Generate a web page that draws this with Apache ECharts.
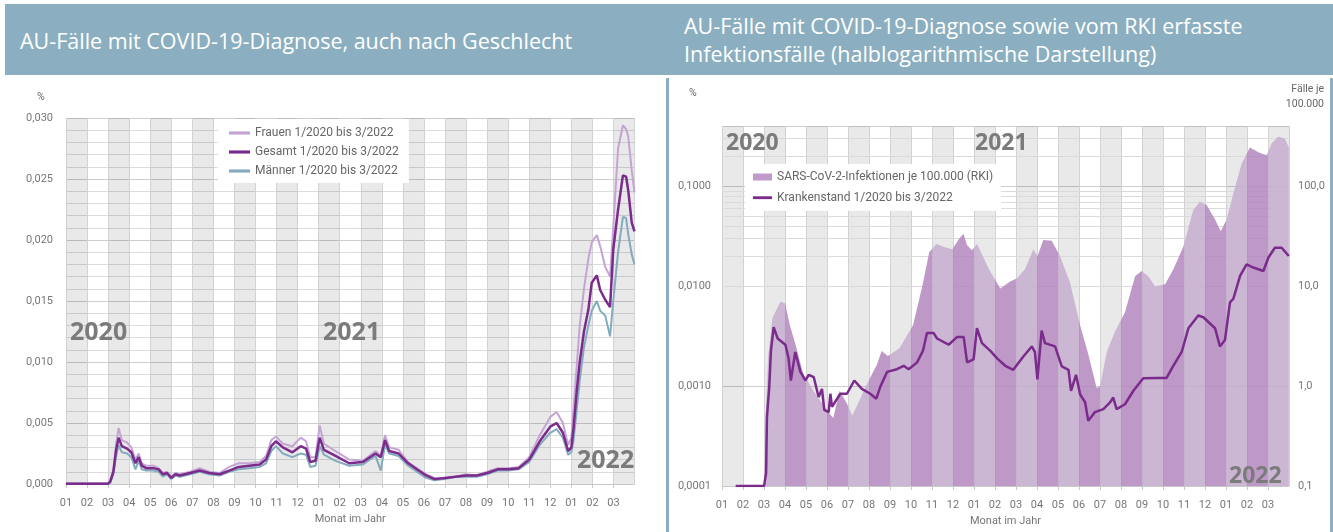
<!DOCTYPE html>
<html>
<head>
<meta charset="utf-8">
<script src="https://cdn.jsdelivr.net/npm/echarts@6/dist/echarts.min.js"></script>
<style>
  html, body { margin: 0; padding: 0; width: 1333px; height: 532px; overflow: hidden; background: #fff; }
  .head { position: absolute; top: 4px; left: 5px; width: 1328px; height: 71px; background: #8bafc0; }
  .title { position: absolute; color: #fff; font-family: 'Open Sans', sans-serif; font-size: 21.5px; white-space: nowrap; }
  .vline { position: absolute; top: 78px; bottom: 0; width: 3px; background: #8bafc0; }
  #chart { position: absolute; left: 0; top: 0; width: 1333px; height: 532px; z-index: 2; }
</style>
</head>
<body>
<div class="head"></div>
<div class="title" style="left:20px;top:26px;">AU-Fälle mit COVID-19-Diagnose, auch nach Geschlecht</div>
<div class="title" style="left:684px;top:12px;line-height:28px;">AU-Fälle mit COVID-19-Diagnose sowie vom RKI erfasste<br>Infektionsfälle (halblogarithmische Darstellung)</div>
<div class="vline" style="left:666px;"></div>
<div class="vline" style="left:1330px;"></div>
<div id="chart"></div>
<script>
// month labels on both x axes (x values are months since 1/2020)
const monthLabels = ['01', '02', '03', '04', '05', '06', '07', '08', '09', '10', '11', '12'];

// left chart: AU-Fälle in %, shared x positions
const monthPos = [0, 2.0, 2.1, 2.25, 2.38, 2.5, 2.65, 2.9, 3.1, 3.3, 3.45, 3.6, 3.8, 4.15, 4.4, 4.6, 4.8, 5.0, 5.2, 5.4,
  5.9, 6.35, 6.8, 7.3, 7.75, 8.2, 8.7, 9.2, 9.5, 9.75, 9.97, 10.3, 10.75, 11.15, 11.4, 11.6, 11.85, 12.05, 12.25, 12.8,
  13.45, 14.1, 14.7, 14.95, 15.15, 15.35, 15.8, 16.25, 16.75, 17.1, 17.5, 18.0, 18.5, 19.0, 19.5, 20.0, 20.5, 21.0, 21.5, 22.0,
  22.5, 23.0, 23.3, 23.6, 23.85, 24.0, 24.1, 24.25, 24.4, 24.6, 24.81, 24.97, 25.21, 25.37, 25.61, 25.84, 25.99, 26.22, 26.45, 26.6,
  26.7, 26.87, 27.0];
const frauen = [0.00005, 0.00005, 0.0003, 0.0012, 0.0033, 0.0046, 0.0036, 0.0034, 0.0030, 0.0020, 0.0025, 0.0017, 0.0015, 0.0015, 0.0013, 0.0009, 0.0010, 0.0006, 0.0009, 0.0008,
  0.0010, 0.0013, 0.0010, 0.0009, 0.0014, 0.0017, 0.0017, 0.0018, 0.0023, 0.0036, 0.0039, 0.0033, 0.0031, 0.0038, 0.0035, 0.0022, 0.0022, 0.0048, 0.0033, 0.0027,
  0.0020, 0.0019, 0.0027, 0.0023, 0.0040, 0.0030, 0.0028, 0.0018, 0.0012, 0.0008, 0.0005, 0.0005, 0.0006, 0.0008, 0.0007, 0.0010, 0.0013, 0.0013, 0.0014, 0.0022,
  0.0040, 0.0055, 0.0059, 0.0050, 0.0032, 0.0038, 0.0060, 0.0095, 0.0130, 0.0160, 0.0185, 0.0198, 0.0204, 0.0195, 0.0178, 0.0170, 0.0210, 0.0275, 0.0294, 0.0291,
  0.0285, 0.0257, 0.0239];
const gesamt = [0.00003, 0.00003, 0.0002, 0.0010, 0.0028, 0.0038, 0.0031, 0.0029, 0.0026, 0.0017, 0.0022, 0.0015, 0.0013, 0.0013, 0.0012, 0.0008, 0.0009, 0.0005, 0.0008, 0.0007,
  0.0009, 0.0011, 0.0009, 0.0008, 0.0011, 0.0014, 0.0015, 0.0016, 0.0020, 0.0031, 0.0035, 0.0030, 0.0026, 0.0031, 0.0029, 0.0018, 0.0019, 0.0038, 0.0028, 0.0023,
  0.0017, 0.0018, 0.0025, 0.0022, 0.0036, 0.0027, 0.0025, 0.0017, 0.0011, 0.0007, 0.0004, 0.0005, 0.0006, 0.0007, 0.0007, 0.0009, 0.0012, 0.0012, 0.0013, 0.0020,
  0.0035, 0.0047, 0.0050, 0.0042, 0.0027, 0.0030, 0.0045, 0.0075, 0.0100, 0.0125, 0.0143, 0.0165, 0.0171, 0.0159, 0.0151, 0.0145, 0.0192, 0.0225, 0.0253, 0.0252,
  0.0241, 0.0214, 0.0207];
const maenner = [0.00002, 0.00002, 0.0001, 0.0008, 0.0023, 0.0032, 0.0026, 0.0025, 0.0022, 0.0012, 0.0019, 0.0012, 0.0011, 0.0011, 0.0010, 0.0006, 0.0008, 0.0004, 0.0007, 0.0006,
  0.0008, 0.0010, 0.0008, 0.0007, 0.0010, 0.0012, 0.0013, 0.0014, 0.0017, 0.0027, 0.0031, 0.0025, 0.0022, 0.0025, 0.0024, 0.0014, 0.0015, 0.0031, 0.0024, 0.0019,
  0.0015, 0.0016, 0.0023, 0.0011, 0.0032, 0.0025, 0.0023, 0.0015, 0.0009, 0.0005, 0.0003, 0.0004, 0.0006, 0.0006, 0.0006, 0.0008, 0.0011, 0.0011, 0.0012, 0.0018,
  0.0032, 0.0042, 0.0045, 0.0038, 0.0024, 0.0026, 0.0035, 0.0060, 0.0085, 0.0112, 0.0130, 0.0142, 0.0150, 0.0142, 0.0138, 0.0121, 0.0150, 0.0190, 0.0219, 0.0218,
  0.0205, 0.0188, 0.0180];

// right chart: RKI infections per 100.000 (right log axis)
const rkiPos = [2.0, 2.08, 2.2, 2.4, 2.78, 3.0, 3.23, 3.55, 3.87, 4.35, 5.0, 5.3, 5.6, 5.95, 6.2, 6.4, 6.9, 7.38, 7.6, 7.9,
  8.45, 9.1, 9.55, 9.87, 10.2, 10.65, 10.97, 11.3, 11.5, 11.67, 11.9, 12.15, 12.7, 13.25, 13.7, 14.05, 14.43, 14.83, 15.02, 15.3,
  15.7, 16.1, 16.57, 17.05, 17.44, 17.84, 18.0, 18.32, 18.71, 19.19, 19.67, 19.98, 20.3, 20.62, 21.1, 21.5, 21.97, 22.44, 22.76, 23.08,
  23.48, 23.75, 24.03, 24.35, 24.75, 25.14, 25.54, 25.94, 26.18, 26.49, 26.81, 26.99];
const rkiInzidenz = [0.1, 0.5, 2.0, 4.8, 7.0, 6.8, 4.1, 2.4, 1.33, 0.9, 0.57, 0.48, 0.9, 0.67, 0.51, 0.62, 1.05, 1.65, 2.25, 2.0,
  2.4, 4.1, 10.3, 22, 26.5, 24.5, 23.5, 30, 33.5, 25.7, 23, 26.5, 15, 9.5, 11.1, 12, 14.9, 23.5, 20, 29,
  28.5, 20, 11, 4.1, 2.1, 0.96, 1.0, 2.2, 3.5, 5.5, 12.6, 14.2, 12.6, 10, 10.5, 14.9, 25, 58, 70, 65,
  46.5, 35.6, 46.5, 85, 170, 245, 220, 205, 270, 316, 300, 245];

// right chart: Krankenstand in % (left log axis)
const krankPos = [0.65, 2.0, 2.1, 2.14, 2.25, 2.33, 2.46, 2.65, 3.02, 3.17, 3.28, 3.49, 3.73, 3.97, 4.13, 4.37, 4.6, 4.76, 4.87, 5.08,
  5.16, 5.24, 5.63, 5.95, 6.3, 6.66, 7.06, 7.35, 7.54, 7.86, 8.33, 8.65, 8.89, 9.29, 9.57, 9.76, 10.08, 10.24, 10.79, 11.19,
  11.51, 11.67, 11.98, 12.14, 12.38, 12.78, 13.1, 13.49, 13.87, 14.35, 14.75, 14.9, 15.02, 15.22, 15.38, 15.86, 16.18, 16.5, 16.62, 16.86,
  17.05, 17.29, 17.44, 17.76, 18.16, 18.48, 18.63, 18.79, 19.19, 19.59, 20.06, 20.7, 21.17, 21.49, 21.89, 22.21, 22.68, 22.92, 23.48, 23.71,
  23.95, 24.19, 24.35, 24.67, 24.98, 25.3, 25.78, 26.02, 26.33, 26.65, 26.99];
const krankenstand = [0.0001, 0.0001, 0.000135, 0.00049, 0.00098, 0.00226, 0.0039, 0.0030, 0.0026, 0.0019, 0.00114, 0.0022, 0.0014, 0.00114, 0.0013, 0.00123, 0.00078, 0.00094, 0.00058, 0.00055,
  0.00084, 0.00062, 0.00084, 0.00084, 0.00114, 0.00094, 0.00084, 0.00075, 0.00099, 0.00139, 0.00148, 0.0016, 0.00148, 0.00173, 0.00226, 0.0034, 0.0034, 0.0030, 0.0026, 0.0031,
  0.0031, 0.00173, 0.00186, 0.0038, 0.0027, 0.00226, 0.0019, 0.0016, 0.00146, 0.00198, 0.0025, 0.0022, 0.00117, 0.0036, 0.0027, 0.0025, 0.00158, 0.00146, 0.0009, 0.0013,
  0.00083, 0.00069, 0.00045, 0.00055, 0.00059, 0.00069, 0.00077, 0.00059, 0.00066, 0.0009, 0.0012, 0.00121, 0.00121, 0.0016, 0.0022, 0.0038, 0.0051, 0.0049, 0.0038, 0.0025,
  0.0029, 0.0069, 0.0075, 0.0127, 0.0166, 0.0154, 0.0142, 0.0194, 0.0243, 0.0243, 0.0201];

const MONTHS = 27;
const pairs = (xs, ys) => xs.map((x, i) => [x, ys[i]]);
const deComma = (v, d) => v.toFixed(d).replace('.', ',');

// log grid lines 2..9 in each decade of the left log axis
const logMinor = [];
[0.0001, 0.001, 0.01, 0.1].forEach(d => {
  for (let k = 2; k <= 9; k++) if (k * d < 0.4) logMinor.push({ yAxis: k * d });
});

const labelColor = '#777';
// translucent bands so the horizontal grid lines stay visible
const bandColors = ['rgba(0,0,0,0.085)', 'rgba(255,255,255,0)'];
const lineIcon = 'path://M0,0H20V3H0Z';

function monthAxis(gridIndex, margin, nameGap) {
  return {
    type: 'value', gridIndex, min: 0, max: MONTHS, interval: 1,
    axisLine: { show: true, lineStyle: { color: '#c8c8c8' } },
    axisTick: { show: true, length: 4, lineStyle: { color: '#c8c8c8' } },
    axisLabel: { color: labelColor, fontSize: 11, margin, showMaxLabel: false,
      formatter: v => monthLabels[v % 12] },
    splitLine: { show: true, lineStyle: { color: '#d2d2d2' } },
    splitArea: { show: true, areaStyle: { color: bandColors } },
    name: 'Monat im Jahr', nameLocation: 'middle', nameGap,
    nameTextStyle: { color: labelColor, fontSize: 11 }
  };
}

const yearText = (text, x, y, size) => ({
  type: 'text', x, y, z: 100,
  style: { text, fill: '#7b7b7b', font: 'bold ' + size + 'px "Open Sans"', verticalAlign: 'middle' }
});
const unitText = (text, x, y, align) => ({
  type: 'text', x, y,
  style: { text, fill: '#666', font: '10.5px Roboto', align: align || 'left', verticalAlign: 'middle', lineHeight: 15 }
});

const chart = echarts.init(document.getElementById('chart'));
chart.setOption({
  animation: false,
  textStyle: { fontFamily: 'Roboto' },
  grid: [
    { left: 66, top: 118, width: 568.5, height: 366 },
    { left: 722, top: 126.2, width: 567, height: 363.8 }
  ],
  xAxis: [monthAxis(0, 14, 28), monthAxis(1, 14, 24)],
  yAxis: [
    {
      type: 'value', gridIndex: 0, min: 0, max: 0.03, interval: 0.005,
      axisLine: { show: false }, axisTick: { show: false },
      axisLabel: { color: labelColor, fontSize: 11, margin: 13, formatter: v => deComma(v, 3) },
      splitLine: { show: true, lineStyle: { color: '#cdcdcd' } },
      minorTick: { show: false, splitNumber: 5 },
      minorSplitLine: { show: true, lineStyle: { color: '#dcdcdc' } }
    },
    {
      type: 'log', logBase: 10, gridIndex: 1, min: 0.0001, max: 0.4, splitNumber: 4,
      axisLine: { show: false }, axisTick: { show: false },
      axisLabel: { color: labelColor, fontSize: 11, margin: 11, showMaxLabel: false, formatter: v => deComma(v, 4) },
      splitLine: { show: true, lineStyle: { color: '#cdcdcd' } }
    },
    {
      type: 'log', logBase: 10, gridIndex: 1, position: 'right', min: 0.1, max: 400, splitNumber: 4,
      axisLine: { show: false }, axisTick: { show: false },
      axisLabel: { color: labelColor, fontSize: 11, margin: 9, showMaxLabel: false, formatter: v => deComma(v, 1) },
      splitLine: { show: false }
    }
  ],
  legend: [
    {
      orient: 'vertical', left: 218, top: 119, backgroundColor: '#fff', z: 10,
      padding: [7, 10, 5, 11], itemGap: 5, itemWidth: 21, itemHeight: 12,
      textStyle: { color: '#666', fontSize: 12, lineHeight: 14 },
      data: [
        { name: 'Frauen 1/2020 bis 3/2022', icon: lineIcon },
        { name: 'Gesamt 1/2020 bis 3/2022', icon: lineIcon },
        { name: 'Männer 1/2020 bis 3/2022', icon: lineIcon }
      ]
    },
    {
      orient: 'vertical', left: 745, top: 164, backgroundColor: '#fff', z: 10,
      padding: [6, 8, 6, 8], itemGap: 6.7, itemWidth: 19, itemHeight: 7,
      textStyle: { color: '#666', fontSize: 12, lineHeight: 14 },
      data: [
        { name: 'SARS-CoV-2-Infektionen je 100.000 (RKI)', icon: 'rect', itemStyle: { color: '#c09acb' } },
        { name: 'Krankenstand 1/2020 bis 3/2022', icon: lineIcon }
      ]
    }
  ],
  visualMap: [{
    type: 'piecewise', show: false, dimension: 0, seriesIndex: 3,
    pieces: Array.from({ length: MONTHS }, (_, i) => ({ gte: i, lt: i + 1, color: i % 2 ? '#b387bd' : '#c6adcf' }))
  }],
  series: [
    { name: 'Frauen 1/2020 bis 3/2022', type: 'line', xAxisIndex: 0, yAxisIndex: 0, symbol: 'none', z: 3,
      color: '#c4a4d4', lineStyle: { width: 2 }, data: pairs(monthPos, frauen) },
    { name: 'Männer 1/2020 bis 3/2022', type: 'line', xAxisIndex: 0, yAxisIndex: 0, symbol: 'none', z: 4,
      color: '#82abbd', lineStyle: { width: 2 }, data: pairs(monthPos, maenner) },
    { name: 'Gesamt 1/2020 bis 3/2022', type: 'line', xAxisIndex: 0, yAxisIndex: 0, symbol: 'none', z: 5,
      color: '#7a2b8c', lineStyle: { width: 2.5 }, data: pairs(monthPos, gesamt) },
    { name: 'SARS-CoV-2-Infektionen je 100.000 (RKI)', type: 'line', xAxisIndex: 1, yAxisIndex: 2, symbol: 'none', z: 2,
      color: '#c09acb', lineStyle: { width: 0, opacity: 0 }, areaStyle: { opacity: 0.85 },
      data: pairs(rkiPos, rkiInzidenz) },
    { name: 'Krankenstand 1/2020 bis 3/2022', type: 'line', xAxisIndex: 1, yAxisIndex: 1, symbol: 'none', z: 5,
      color: '#7a2b8c', lineStyle: { width: 2.5 }, data: pairs(krankPos, krankenstand),
      markLine: { silent: true, z: 1, symbol: 'none', label: { show: false },
        lineStyle: { color: '#dadada', type: 'solid', width: 1 }, data: logMinor } }
  ],
  graphic: [
    yearText('2020', 70, 333, 25), yearText('2021', 323, 333, 25), yearText('2022', 577, 461, 25),
    yearText('2020', 726, 143, 23), yearText('2021', 975, 143, 23), yearText('2022', 1229, 476, 23),
    unitText('%', 37, 97), unitText('%', 689, 93),
    unitText('Fälle je\n100.000', 1324, 97, 'right')
  ]
});
window.addEventListener('resize', () => chart.resize());
</script>
</body>
</html>
